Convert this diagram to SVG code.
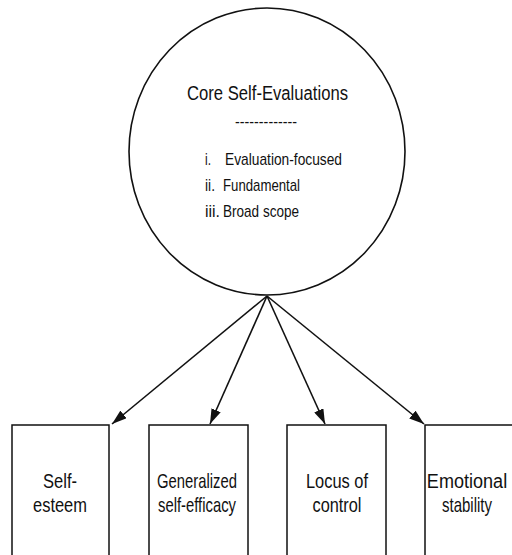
<svg xmlns="http://www.w3.org/2000/svg" width="512" height="555" viewBox="0 0 512 555">
<style>
  .ln { stroke: #111; stroke-width: 1.6; fill: none; }
  .bx { stroke: #111; stroke-width: 1.5; fill: #fff; }
  text { font-family: "Liberation Sans", Arial, sans-serif; fill: #111; }
  .t1 { font-size: 20px; }
  .t2 { font-size: 17px; }
  .t3 { font-size: 21px; text-anchor: middle; }
</style>
<defs>
  <marker id="ah" viewBox="0 0 15 10" refX="15" refY="5" markerWidth="15" markerHeight="10" markerUnits="userSpaceOnUse" orient="auto">
    <path d="M0,0 L15,5 L0,10 Z" fill="#111"/>
  </marker>
</defs>
<rect width="512" height="555" fill="#fff"/>
<g id="connectors">
  <line class="ln" x1="267" y1="296" x2="112" y2="424" marker-end="url(#ah)"/>
  <line class="ln" x1="267" y1="296" x2="210" y2="424" marker-end="url(#ah)"/>
  <line class="ln" x1="267" y1="296" x2="325" y2="424" marker-end="url(#ah)"/>
  <line class="ln" x1="267" y1="296" x2="424" y2="424" marker-end="url(#ah)"/>
</g>
<g id="core">
  <ellipse class="ln" cx="267" cy="151.5" rx="138" ry="143.5"/>
  <text class="t1" x="187" y="100" textLength="161" lengthAdjust="spacingAndGlyphs">Core Self-Evaluations</text>
  <text class="t2" x="235" y="127" textLength="62" lengthAdjust="spacingAndGlyphs">-------------</text>
  <text class="t2" x="205" y="165" textLength="6" lengthAdjust="spacingAndGlyphs">i.</text>
  <text class="t2" x="225" y="165" textLength="117" lengthAdjust="spacingAndGlyphs">Evaluation-focused</text>
  <text class="t2" x="205" y="191" textLength="10" lengthAdjust="spacingAndGlyphs">ii.</text>
  <text class="t2" x="223" y="191" textLength="77" lengthAdjust="spacingAndGlyphs">Fundamental</text>
  <text class="t2" x="205" y="217" textLength="15" lengthAdjust="spacingAndGlyphs">iii.</text>
  <text class="t2" x="223" y="217" textLength="76" lengthAdjust="spacingAndGlyphs">Broad scope</text>
</g>
<g id="self-esteem">
  <rect class="bx" x="12" y="425" width="97" height="140"/>
  <text class="t3" x="60" y="488" textLength="34" lengthAdjust="spacingAndGlyphs">Self-</text>
  <text class="t3" x="60" y="512" textLength="54" lengthAdjust="spacingAndGlyphs">esteem</text>
</g>
<g id="self-efficacy">
  <rect class="bx" x="149" y="425" width="99" height="140"/>
  <text class="t3" x="197" y="488" textLength="80" lengthAdjust="spacingAndGlyphs">Generalized</text>
  <text class="t3" x="197" y="512" textLength="78" lengthAdjust="spacingAndGlyphs">self-efficacy</text>
</g>
<g id="locus">
  <rect class="bx" x="287" y="425" width="99" height="140"/>
  <text class="t3" x="337" y="488" textLength="62" lengthAdjust="spacingAndGlyphs">Locus of</text>
  <text class="t3" x="337" y="512" textLength="49" lengthAdjust="spacingAndGlyphs">control</text>
</g>
<g id="emotional">
  <rect class="bx" x="425" y="425" width="99" height="140"/>
  <text class="t3" transform="translate(467,488) scale(0.86,1)" x="0" y="0">Emotional</text>
  <text class="t3" x="467" y="512" textLength="50" lengthAdjust="spacingAndGlyphs">stability</text>
</g>
</svg>
